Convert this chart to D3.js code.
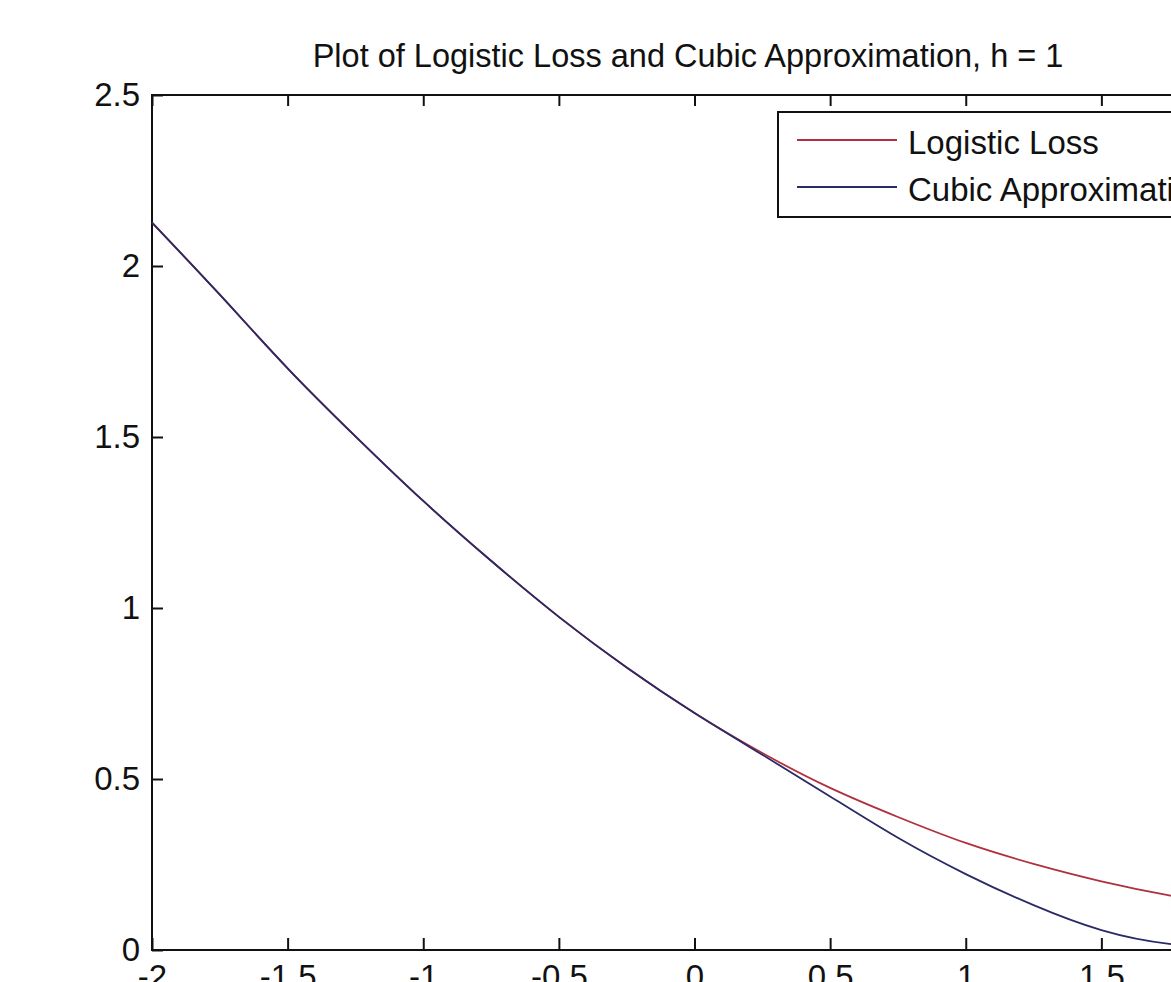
<!DOCTYPE html>
<html>
<head>
<meta charset="utf-8">
<script src="https://cdn.jsdelivr.net/npm/d3@7"></script>
<style>
  html, body { margin: 0; padding: 0; background: #fff; overflow: hidden; }
  svg { display: block; }
  text { font-family: "Liberation Sans", Arial, Helvetica, sans-serif; fill: #111; }
</style>
</head>
<body>
<svg id="chart" width="1171" height="982"></svg>
<script>
// ---- data ----
const xValues = [-2, -1.75, -1.5, -1.25, -1, -0.75, -0.5, -0.25, 0, 0.25, 0.5, 0.75, 1, 1.25, 1.5, 1.75, 2];
const logisticLoss = [2.127, 1.916, 1.701, 1.502, 1.313, 1.138, 0.974, 0.826, 0.693, 0.576, 0.474, 0.389, 0.313, 0.252, 0.201, 0.160, 0.127];
const cubicApprox  = [2.127, 1.916, 1.701, 1.502, 1.313, 1.138, 0.974, 0.826, 0.693, 0.571, 0.449, 0.328, 0.222, 0.131, 0.058, 0.018, 0.008];
const xTicks = [-2, -1.5, -1, -0.5, 0, 0.5, 1, 1.5, 2];
const yTicks = [0, 0.5, 1, 1.5, 2, 2.5];
const seriesNames = ["Logistic Loss", "Cubic Approximation"];
const seriesColors = ["#b0303e", "#2a2a66"];
const titleText = "Plot of Logistic Loss and Cubic Approximation, h = 1";

(function () {
// ---- layout ----
const pL = 152, pR = 1237, pT = 95, pB = 950;
const svg = d3.select("#chart");
const x = d3.scaleLinear().domain([-2, 2]).range([pL, pR]);
const y = d3.scaleLinear().domain([0, 2.5]).range([pB, pT]);
const fs = 33;

// title
svg.append("text")
  .attr("x", 688).attr("y", 67)
  .attr("text-anchor", "middle")
  .style("font-size", "32.5px")
  .text(titleText);

// axes
const fmt = d => String(d);
const gB = svg.append("g").attr("transform", `translate(0,${pB})`)
  .call(d3.axisBottom(x).tickValues(xTicks).tickFormat(fmt).tickSizeInner(-12).tickSizeOuter(0).tickPadding(15));
const gL = svg.append("g").attr("transform", `translate(${pL},0)`)
  .call(d3.axisLeft(y).tickValues(yTicks).tickFormat(fmt).tickSizeInner(-11).tickSizeOuter(0).tickPadding(12));
const gT = svg.append("g").attr("transform", `translate(0,${pT})`)
  .call(d3.axisTop(x).tickValues(xTicks).tickFormat("").tickSizeInner(-11).tickSizeOuter(0));
const gR = svg.append("g").attr("transform", `translate(${pR},0)`)
  .call(d3.axisRight(y).tickValues(yTicks).tickFormat("").tickSizeInner(-11).tickSizeOuter(0));
[gB, gL, gT, gR].forEach(g => {
  g.select(".domain").remove();
  g.selectAll("line").attr("stroke", "#111").attr("stroke-width", 2);
  g.selectAll("text").style("font-size", fs + "px").attr("fill", "#111")
   .style("font-family", '"Liberation Sans", Arial, sans-serif');
});

// frame
svg.append("rect")
  .attr("x", pL).attr("y", pT)
  .attr("width", pR - pL).attr("height", pB - pT)
  .attr("fill", "none").attr("stroke", "#111").attr("stroke-width", 2);

// lines
const line = d3.line().x(d => x(d[0])).y(d => y(d[1])).curve(d3.curveNatural);
const series = [logisticLoss, cubicApprox];
series.forEach((vals, i) => {
  svg.append("path")
    .datum(xValues.map((xv, j) => [xv, vals[j]]))
    .attr("fill", "none")
    .attr("stroke", seriesColors[i])
    .attr("stroke-width", 1.8)
    .attr("d", line);
});

// legend
const lg = svg.append("g");
lg.append("rect")
  .attr("x", 778).attr("y", 112).attr("width", 450).attr("height", 105)
  .attr("fill", "#fff").attr("stroke", "#111").attr("stroke-width", 2);
seriesNames.forEach((name, i) => {
  const yy = 140 + i * 47;
  lg.append("line").attr("x1", 797).attr("x2", 897).attr("y1", yy).attr("y2", yy)
    .attr("stroke", seriesColors[i]).attr("stroke-width", 1.8);
  lg.append("text").attr("x", 908).attr("y", yy + 14)
    .style("font-size", fs + "px").text(name);
});
})();
</script>
</body>
</html>
